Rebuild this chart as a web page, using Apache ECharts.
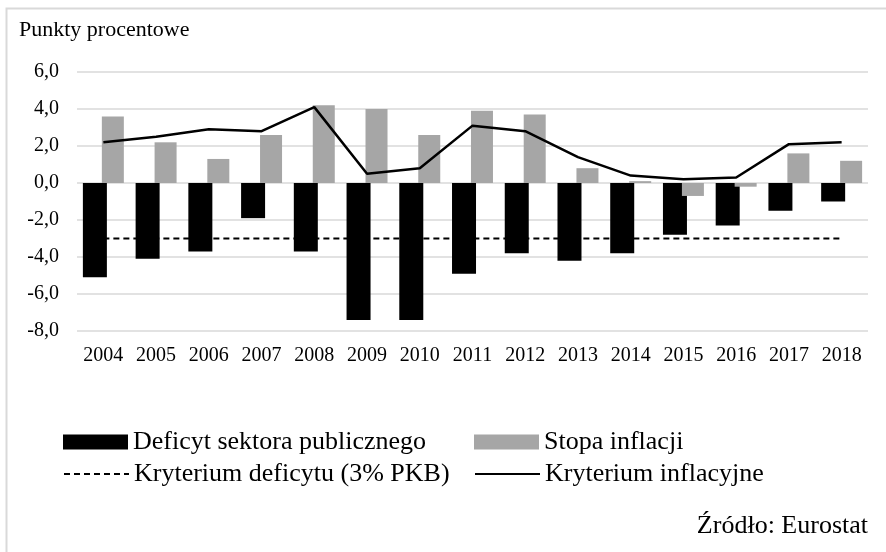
<!DOCTYPE html>
<html>
<head>
<meta charset="utf-8">
<script src="https://cdn.jsdelivr.net/npm/echarts@6/dist/echarts.min.js"></script>
<style>
html,body{margin:0;padding:0;background:#fff;}
#chart{width:886px;height:552px;}
</style>
</head>
<body>
<div id="chart"></div>
<script>
const years = ['2004','2005','2006','2007','2008','2009','2010','2011','2012','2013','2014','2015','2016','2017','2018'];
const deficit = [-5.1,-4.1,-3.7,-1.9,-3.7,-7.4,-7.4,-4.9,-3.8,-4.2,-3.8,-2.8,-2.3,-1.5,-1.0];
const inflation = [3.6,2.2,1.3,2.6,4.2,4.0,2.6,3.9,3.7,0.8,0.1,-0.7,-0.2,1.6,1.2];
const deficitCriterion = [-3.0,-3.0,-3.0,-3.0,-3.0,-3.0,-3.0,-3.0,-3.0,-3.0,-3.0,-3.0,-3.0,-3.0,-3.0];
const inflationCriterion = [2.2,2.5,2.9,2.8,4.1,0.5,0.8,3.1,2.8,1.4,0.4,0.2,0.3,2.1,2.2];
const yMin = -8, yMax = 6, yStep = 2;

const FONT = '"Liberation Serif", "Times New Roman", serif';
const names = ['Deficyt sektora publicznego','Stopa inflacji','Kryterium deficytu (3% PKB)','Kryterium inflacyjne'];

const chart = echarts.init(document.getElementById('chart'), null, {renderer:'canvas'});
const legendBase = {
  orient:'horizontal', padding:0, itemWidth:65, itemHeight:15, itemGap:0,
  textStyle:{fontFamily:FONT, fontSize:26, color:'#000'}, selectedMode:false
};
const noDot = {color:'rgba(0,0,0,0)', borderWidth:0, opacity:0};
chart.setOption({
  animation:false,
  backgroundColor:'#fff',
  title:[
    {text:'Punkty procentowe', left:19, top:19, padding:0,
     textStyle:{fontFamily:FONT, fontSize:22, fontWeight:'normal', color:'#000'}},
    {text:'Źródło: Eurostat', right:18, top:513, padding:0,
     textStyle:{fontFamily:FONT, fontSize:26, fontWeight:'normal', color:'#000'}}
  ],
  graphic:[{type:'rect', left:4, top:6, silent:true, z:-10,
    shape:{width:1000, height:1000},
    style:{fill:'none', stroke:'#d9d9d9', lineWidth:2}}],
  legend:[
    Object.assign({}, legendBase, {data:[{name:names[0], icon:'rect'}], left:63, top:429}),
    Object.assign({}, legendBase, {data:[{name:names[1], icon:'rect'}], left:474, top:429}),
    Object.assign({}, legendBase, {data:[{name:names[2], itemStyle:noDot}], left:63, top:461}),
    Object.assign({}, legendBase, {data:[{name:names[3], itemStyle:noDot}], left:474, top:461})
  ],
  grid:{left:77, right:18, top:72, bottom:221, containLabel:false},
  xAxis:{
    type:'category', data:years,
    axisLine:{show:false, onZero:false},
    axisTick:{show:false},
    axisLabel:{fontFamily:FONT, fontSize:20, color:'#000', margin:15, interval:0},
    splitLine:{show:false}
  },
  yAxis:{
    type:'value', min:yMin, max:yMax, interval:yStep,
    axisLine:{show:false}, axisTick:{show:false},
    axisLabel:{fontFamily:FONT, fontSize:20, color:'#000', margin:18,
      formatter:v => v.toFixed(1).replace('.', ',')},
    splitLine:{lineStyle:{color:'#d9d9d9', width:1.5}}
  },
  series:[
    {name:names[0], type:'bar', data:deficit, barWidth:24, barGap:'-21%',
     itemStyle:{color:'#000'}},
    {name:names[1], type:'bar', data:inflation, barWidth:22,
     itemStyle:{color:'#a6a6a6'}},
    {name:names[2], type:'line', data:deficitCriterion, symbol:'none',
     lineStyle:{color:'#000', width:2, type:[6,4]}, itemStyle:{color:'#000'}},
    {name:names[3], type:'line', data:inflationCriterion, symbol:'none',
     lineStyle:{color:'#000', width:2.5}, itemStyle:{color:'#000'}}
  ]
});
</script>
</body>
</html>
